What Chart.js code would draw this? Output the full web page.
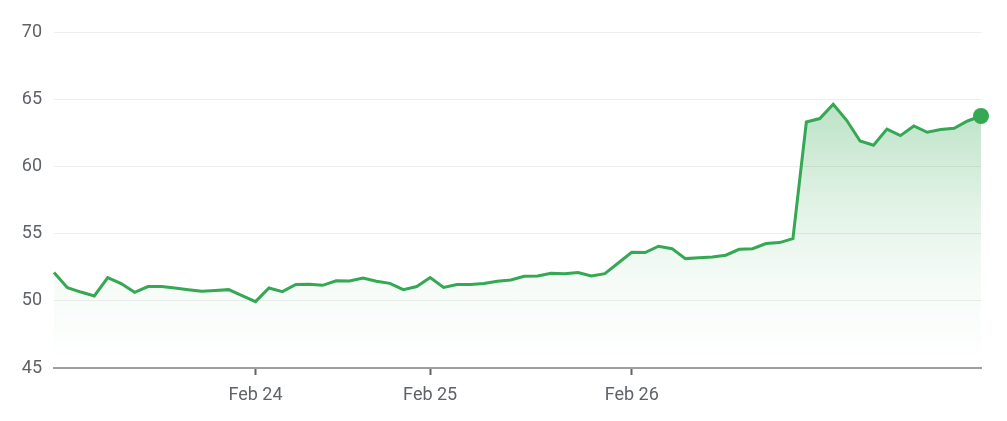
<!DOCTYPE html>
<html>
<head>
<meta charset="utf-8">
<script src="https://cdn.jsdelivr.net/npm/chart.js@4/dist/chart.umd.min.js"></script>
<style>
  html, body { margin: 0; padding: 0; background: #fff; }
  #wrap { width: 1007px; height: 421px; }
</style>
</head>
<body>
<div id="wrap"><canvas id="precio"></canvas></div>
<script>
// valores (70 puntos)
const precios = [
  52.10, 50.98, 50.65, 50.36, 51.73, 51.28, 50.63, 51.06, 51.06, 50.95,
  50.83, 50.71, 50.76, 50.83, 50.39, 49.94, 50.95, 50.68, 51.21, 51.23,
  51.15, 51.49, 51.47, 51.70, 51.45, 51.30, 50.83, 51.06, 51.73, 51.00,
  51.21, 51.21, 51.28, 51.45, 51.55, 51.82, 51.85, 52.05, 52.02, 52.10,
  51.85, 52.02, 52.81, 53.61, 53.59, 54.06, 53.88, 53.14, 53.20, 53.26,
  53.39, 53.83, 53.88, 54.26, 54.33, 54.63, 63.30, 63.56, 64.62, 63.43,
  61.89, 61.57, 62.78, 62.29, 63.01, 62.54, 62.74, 62.83, 63.38, 63.75
];
const categorias = precios.map((_, i) => i);

// etiquetas del eje x y en que punto caen
const etiquetasX = ['Feb 24', 'Feb 25', 'Feb 26'];
const posEtiquetas = [15, 28, 43];

const yMin = 45, yMax = 70, yPaso = 5;

const verde = '#34a853';
const gris = '#5f6368';

// degradado del relleno, calculado sobre el area del grafico
const relleno = (c) => {
  const area = c.chart.chartArea;
  if (!area) return 'rgba(52,168,83,0.1)';
  const alto = area.bottom - area.top;
  const frac = (v) => Math.min(1, Math.max(0, ((yMax - v) / (yMax - yMin))));
  const g = c.chart.ctx.createLinearGradient(0, area.top, 0, area.top + alto);
  g.addColorStop(frac(Math.max(...precios)), 'rgba(52,168,83,0.33)');
  g.addColorStop(frac(57), 'rgba(52,168,83,0.14)');
  g.addColorStop(frac(51), 'rgba(52,168,83,0.04)');
  g.addColorStop(1, 'rgba(52,168,83,0)');
  return g;
};

const ctx = document.getElementById('precio').getContext('2d');
new Chart(ctx, {
  type: 'line',
  data: {
    labels: categorias,
    datasets: [{
      data: precios,
      borderColor: verde,
      borderWidth: 3,
      tension: 0,
      fill: 'start',
      clip: false,
      backgroundColor: relleno,
      pointRadius: (c) => (c.dataIndex === precios.length - 1 ? 8 : 0),
      pointHoverRadius: (c) => (c.dataIndex === precios.length - 1 ? 8 : 0),
      pointBackgroundColor: verde,
      pointBorderWidth: 0
    }]
  },
  options: {
    responsive: true,
    maintainAspectRatio: false,
    animation: false,
    layout: { padding: { top: 32, right: 26, left: 0, bottom: 0 } },
    plugins: { legend: { display: false }, tooltip: { enabled: false } },
    scales: {
      x: {
        type: 'category',
        offset: false,
        afterFit: (s) => { s.height = 53; },
        border: { display: true, color: '#9e9e9e', width: 2 },
        grid: {
          drawOnChartArea: false,
          drawTicks: true,
          tickLength: 7,
          tickWidth: 2,
          tickColor: (c) => (posEtiquetas.includes(c.index) ? gris : 'rgba(0,0,0,0)')
        },
        ticks: {
          autoSkip: false,
          maxRotation: 0,
          padding: 10,
          color: gris,
          font: { family: 'Roboto', size: 18 },
          callback: (v, i) => {
            const k = posEtiquetas.indexOf(i);
            return k >= 0 ? etiquetasX[k] : '';
          }
        }
      },
      y: {
        min: yMin,
        max: yMax,
        afterFit: (s) => { s.width = 54; },
        border: { display: false },
        grid: {
          color: (c) => (c.tick.value === yMin ? 'rgba(0,0,0,0)' : '#eeeeee'),
          lineWidth: 1,
          drawTicks: false
        },
        ticks: {
          stepSize: yPaso,
          padding: 12,
          color: gris,
          font: { family: 'Roboto', size: 18 }
        }
      }
    }
  }
});
</script>
</body>
</html>
